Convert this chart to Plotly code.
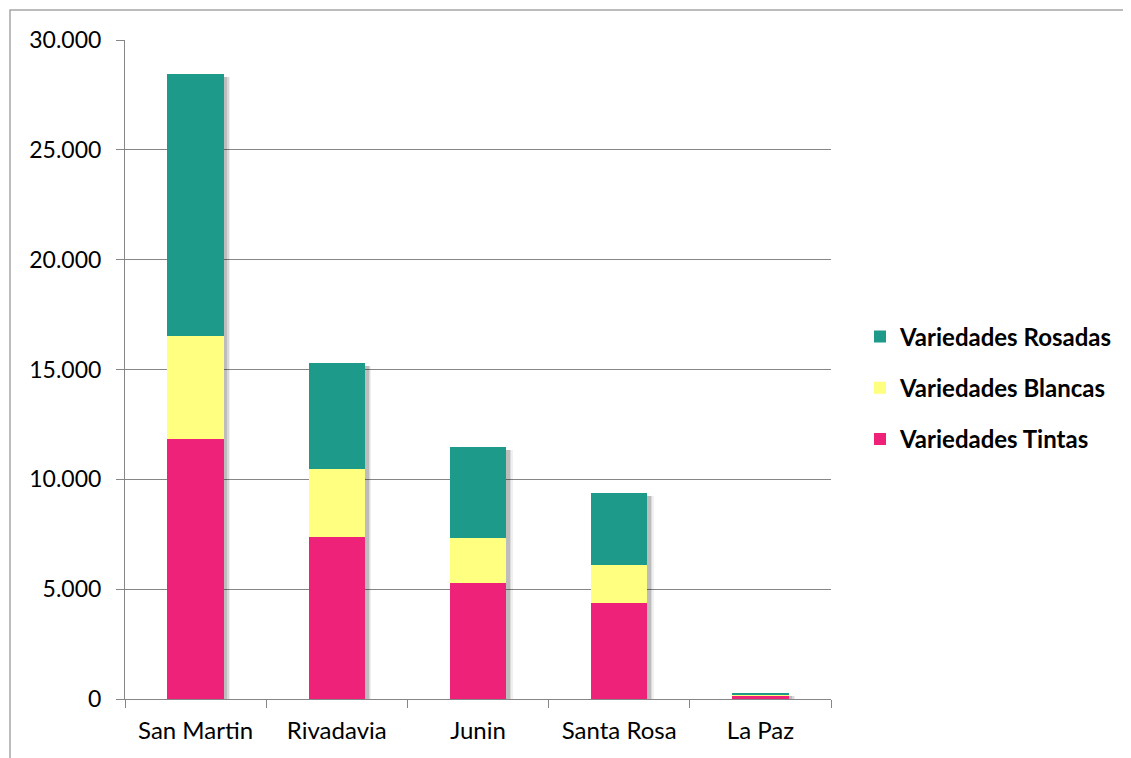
import plotly.graph_objects as go

categories = ["San Martin", "Rivadavia", "Junin", "Santa Rosa", "La Paz"]
tintas = [11830, 7370, 5280, 4370, 170]
blancas = [4690, 3100, 2050, 1730, 40]
rosadas = [11930, 4820, 4140, 3280, 60]

series = [
    ("Variedades Tintas", tintas, "#EE2279", 3),
    ("Variedades Blancas", blancas, "#FFFF80", 2),
    ("Variedades Rosadas", rosadas, "#1E9A8A", 1),
]

totals = [a + b + c for a, b, c in zip(tintas, blancas, rosadas)]

fig = go.Figure()
# soft shadows behind the bars (base axes)
for off, alpha in [(0.045, 0.06), (0.035, 0.09), (0.025, 0.13)]:
    fig.add_trace(go.Bar(
        x=categories, y=totals, base=-120, width=0.4, offset=-0.2 + off,
        marker=dict(color=f"rgba(0,0,0,{alpha})", line=dict(width=0)),
        showlegend=False, hoverinfo="skip", xaxis="x", yaxis="y",
    ))

for name, vals, col, rank in series:
    fig.add_trace(go.Bar(
        x=categories, y=vals, name=name, legendgroup=name, legendrank=rank,
        marker=dict(color=col, line=dict(width=0)),
        xaxis="x2", yaxis="y2",
    ))

OFF = 8  # page body margin
W, H = 1131 - OFF, 758 - OFF
L, T = 125 - OFF, 40 - OFF
R = W - (831 - OFF)
B = H - (699 - OFF)
pw, ph = W - L - R, H - T - B

fig.update_layout(
    width=W, height=H,
    barmode="stack", bargap=0.6,
    separators=",.",
    plot_bgcolor="white", paper_bgcolor="white",
    margin=dict(l=L, r=R, t=T, b=B),
    font=dict(family="Lato, sans-serif", size=23, color="#000000"),
    legend=dict(
        x=(860 - OFF - L) / pw, y=(699 - 388) / 659, xanchor="left", yanchor="middle",
        traceorder="grouped", tracegroupgap=17,
        font=dict(size=24, family="Lato, sans-serif", weight="bold"),
        itemwidth=30,
    ),
    xaxis=dict(
        showline=True, linecolor="#868686", linewidth=1,
        ticks="outside", tickson="boundaries", ticklen=8, tickcolor="#868686",
        showgrid=False, tickfont=dict(size=24), ticklabelstandoff=10,
        categoryorder="array", categoryarray=categories, range=[-0.5, 4.5],
    ),
    xaxis2=dict(overlaying="x", visible=False, categoryorder="array",
                categoryarray=categories, range=[-0.5, 4.5]),
    yaxis=dict(
        range=[0, 30000], dtick=5000, tickformat=",d",
        showline=True, linecolor="#868686", linewidth=1,
        ticks="outside", ticklen=8, tickcolor="#868686",
        showgrid=True, gridcolor="#868686", gridwidth=1,
        tickfont=dict(size=23), zeroline=False, ticklabelstandoff=10,
    ),
    yaxis2=dict(overlaying="y", visible=False, range=[0, 30000]),
    shapes=[dict(
        type="rect", xref="paper", yref="paper",
        x0=(10 - OFF - L) / pw, x1=(1200 - L) / pw,
        y0=-(800 - (699 - OFF)) / ph, y1=(699 - 10) / ph,
        line=dict(color="#A6A6A6", width=1.5), fillcolor="rgba(0,0,0,0)", layer="below",
    )],
)

fig.write_html("out.html")
